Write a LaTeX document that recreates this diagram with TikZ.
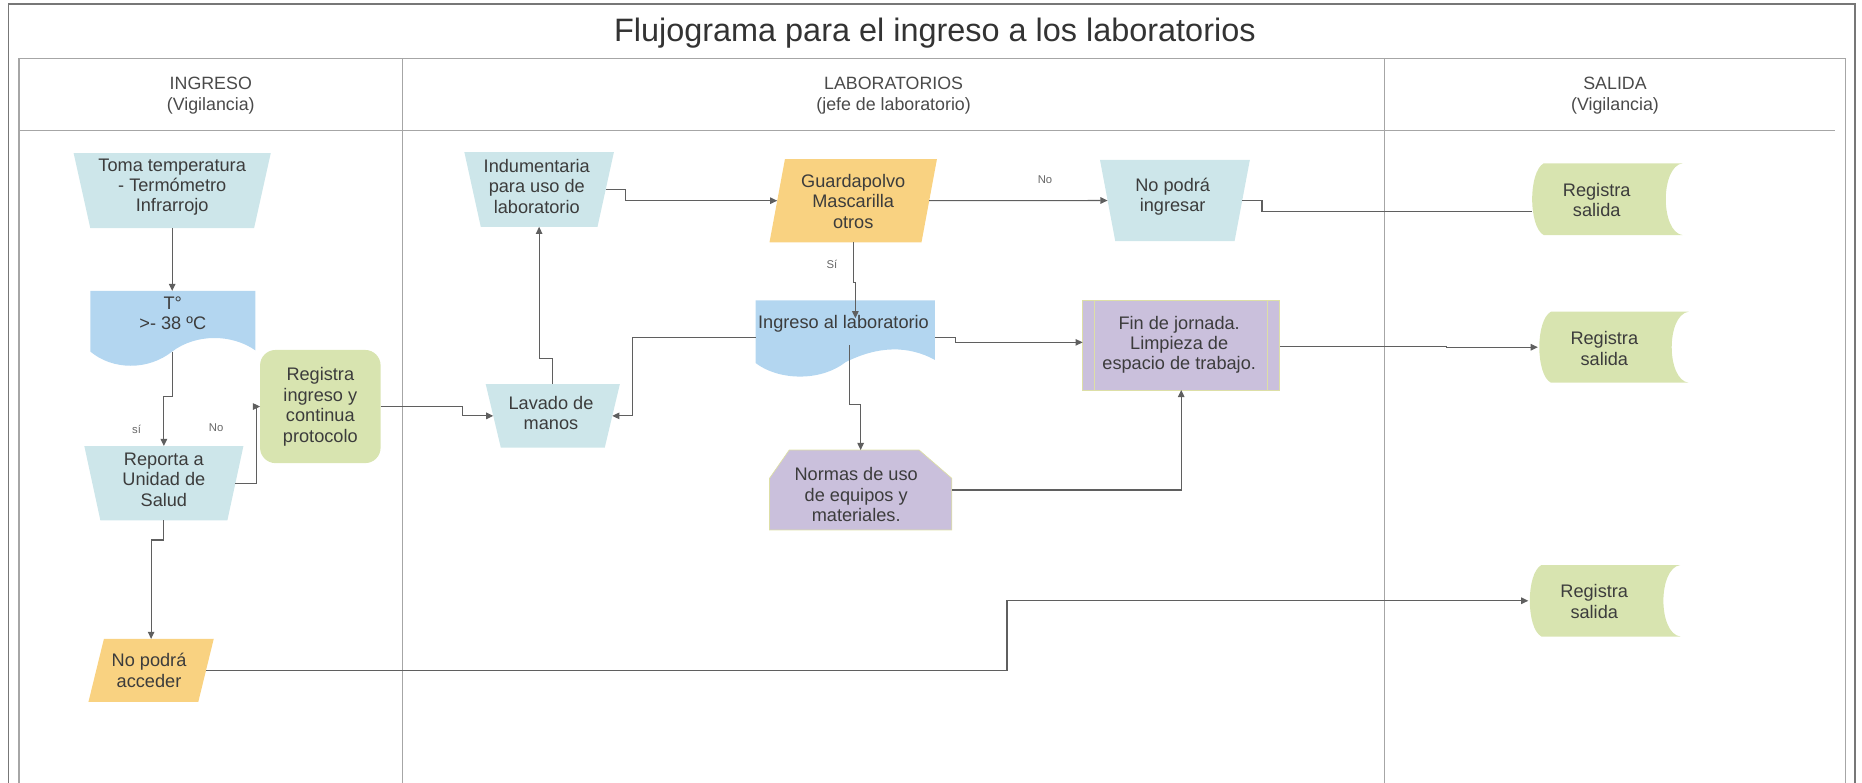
\documentclass[tikz,border=0pt]{standalone}
\usepackage{fontspec}
\setmainfont{Liberation Sans}
\usetikzlibrary{calc,arrows.meta}
\pgfdeclarelayer{bg}
\pgfsetlayers{bg,main}
\definecolor{cteal}{HTML}{CDE6EA}
\definecolor{cblue}{HTML}{B3D6F0}
\definecolor{cgreen}{HTML}{D8E4B0}
\definecolor{corange}{HTML}{F9D281}
\definecolor{cpurple}{HTML}{CAC0DC}
\definecolor{cpborder}{HTML}{DDDFA6}
\definecolor{ctext}{HTML}{3C3C3C}
\definecolor{chdr}{HTML}{4A4A4A}
\definecolor{ctitle}{HTML}{333333}
\definecolor{clbl}{HTML}{666666}
\definecolor{cline}{HTML}{5F5F5F}
\definecolor{clane}{HTML}{A6A6A6}
\definecolor{cframe}{HTML}{777777}
\newcommand\trapfill[3]{\fill[#3] (#1.north west) -- (#1.north east) -- ($(#1.south east)+(-#2,0)$) -- ($(#1.south west)+(#2,0)$) -- cycle;}
\newcommand\parafill[3]{\fill[#3] ($(#1.north west)+(#2,0)$) -- (#1.north east) -- ($(#1.south east)+(-#2,0)$) -- (#1.south west) -- cycle;}
\newcommand\storedfill[1]{\fill[cgreen] ($(#1.north west)+(11,0)$) -- (#1.north east) .. controls ($(#1.north east)+(-19,2.5)$) and ($(#1.south east)+(-19,-2.5)$) .. (#1.south east) -- ($(#1.south west)+(11,0)$) .. controls ($(#1.south west)+(-2,-7)$) and ($(#1.north west)+(-2,7)$) .. cycle;}
\begin{document}
\begin{tikzpicture}[x=1pt,y=-1pt,
 geo/.style 2 args={rectangle,inner sep=0pt,outer sep=0pt,minimum width=#1,minimum height=#2},
 txt/.style={inner sep=0pt,align=center,text=ctext,font=\fontsize{15.3}{17.2}\selectfont},
 hdr/.style={inner sep=0pt,align=center,text=chdr,font=\fontsize{15}{17.7}\selectfont},
 lbl/.style={inner sep=0pt,text=clbl,font=\fontsize{9.5}{11}\selectfont},
 conn/.style={draw=cline,line width=0.9pt},
 arr/.style={conn,-{Triangle[length=6pt,width=5.5pt]}},
 lane/.style={draw=clane,line width=1pt}]
\useasboundingbox (0,0) rectangle (1568,659);
% frame and lanes
\draw[draw=cframe,line width=1.2pt] (7,660) -- (7,3.4) -- (1562,3.4) -- (1562,660);
\draw[lane] (16,660) -- (16,49.4) -- (1554,49.4) -- (1554,660);
\draw[lane] (16,110) -- (1545,110);
\draw[lane] (339,49.4) -- (339,660);
\draw[lane] (1166,49.4) -- (1166,660);
% title and headers
\node[anchor=base,inner sep=0pt,text=ctitle,font=\fontsize{27.3}{30}\selectfont] (title) at (787.25,35) {Flujograma para el ingreso a los laboratorios};
\node[hdr] (h1) at (177.5,80.5) {INGRESO\\(Vigilancia)};
\node[hdr] (h2) at (752.5,80.5) {LABORATORIOS\\(jefe de laboratorio)};
\node[hdr] (h3) at (1360,80.5) {SALIDA\\(Vigilancia)};
% geometry nodes
\node[geo={166}{63}] (toma) at (145,160.5) {};
\node[geo={139}{51}] (temp) at (145.5,270.5) {};
\node[geo={134}{62.5}] (reporta) at (138,406.85) {};
\node[geo={101.5}{95.3}] (regin) at (269.75,342.35) {};
\node[geo={105.5}{53}] (acceder) at (127.25,564.5) {};
\node[geo={126}{63}] (indum) at (454,159.5) {};
\node[geo={141}{70}] (guard) at (718.5,169) {};
\node[geo={150.8}{52}] (inglab) at (711.8,279) {};
\node[geo={113}{53.6}] (lavado) at (465.5,350.2) {};
\node[geo={166}{75.2}] (fin) at (994.7,290.8) {};
\node[geo={153.5}{67.3}] (normas) at (724.75,412.65) {};
\node[geo={126.2}{68.3}] (noing) at (989.4,168.85) {};
\node[geo={128}{60.5}] (reg1) at (1353,167.75) {};
\node[geo={127}{59.8}] (reg2) at (1358.5,292.4) {};
\node[geo={128}{60.2}] (reg3) at (1351,505.9) {};
% fills
\begin{pgfonlayer}{bg}
\trapfill{toma}{14}{cteal}
\trapfill{reporta}{13.5}{cteal}
\trapfill{indum}{13.85}{cteal}
\trapfill{lavado}{12.75}{cteal}
\trapfill{noing}{12.85}{cteal}
\parafill{guard}{13}{corange}
\parafill{acceder}{13}{corange}
\fill[cgreen,rounded corners=13pt] (regin.north west) rectangle (regin.south east);
\fill[cblue] (temp.north west) -- (temp.north east) -- (215,295) .. controls (195,281) and (165,281) .. (145,296) .. controls (125,312) and (95,312) .. (76,296) -- cycle;
\fill[cblue] (inglab.north west) -- (inglab.north east) -- (787.2,303) .. controls (765,291) and (740,291) .. (712,305) .. controls (690,322) and (655,320) .. (636.4,305.8) -- cycle;
\filldraw[fill=cpurple,draw=cpborder,line width=0.8pt] (fin.north west) rectangle (fin.south east);
\draw[cpborder,line width=0.8pt] ($(fin.north west)+(10,0)$) -- ($(fin.south west)+(10,0)$);
\draw[cpborder,line width=0.8pt] ($(fin.north east)+(-10.7,0)$) -- ($(fin.south east)+(-10.7,0)$);
\filldraw[fill=cpurple,draw=cpborder,line width=0.6pt] ($(normas.north west)+(16.6,0)$) -- ($(normas.north east)+(-27.5,0)$) -- ($(normas.north east)+(0,23.8)$) -- (normas.south east) -- (normas.south west) -- ($(normas.north west)+(0,23.8)$) -- cycle;
\storedfill{reg1}
\storedfill{reg2}
\storedfill{reg3}
\end{pgfonlayer}
% texts
\node[txt] (toma-t) at (145,157.6) {Toma temperatura\\- Termómetro\\Infrarrojo};
\node[txt] (temp-t) at (145.5,263.9) {T°\\>- 38 ºC};
\node[txt] (rep-t) at (138,404) {Reporta a\\Unidad de\\Salud};
\node[txt] (regin-t) at (269.75,342.5) {Registra\\ingreso y\\continua\\protocolo};
\node[txt] (acc-t) at (125.5,564.5) {No podrá\\acceder};
\node[txt] (indum-t) at (452,156.7) {Indumentaria\\para uso de\\laboratorio};
\node[txt] (guard-t) at (718.5,169.6) {Guardapolvo\\Mascarilla\\otros};
\node[txt] (inglab-t) at (710.3,272.3) {Ingreso al laboratorio};
\node[txt] (lav-t) at (464,347.9) {Lavado de\\manos};
\node[txt] (fin-t) at (993,290.4) {Fin de jornada.\\Limpieza de\\espacio de trabajo.};
\node[txt] (norm-t) at (721,416.6) {Normas de uso\\de equipos y\\materiales.};
\node[txt] (noing-t) at (987.5,165.6) {No podrá\\ingresar};
\node[txt] (reg1-t) at (1344.6,168.4) {Registra\\salida};
\node[txt] (reg2-t) at (1351,293.4) {Registra\\salida};
\node[txt] (reg3-t) at (1342.5,506.6) {Registra\\salida};
% labels
\node[lbl] (si1) at (115,362) {sí};
\node[lbl] (no1) at (182,360) {No};
\node[lbl] (si2) at (700.6,223) {Sí};
\node[lbl] (no2) at (880,151) {No};
% connectors
\draw[arr] (toma.south) -- (toma.south |- temp.north);
\draw[arr] (temp.south) -- ++(0,38) -| (reporta.north);
\draw[arr] ($(reporta.east)+(-6.75,0)$) -- ++(17.75,0) |- (regin.west);
\draw[arr] (reporta.south) -- ++(0,16.6) -| (acceder.north);
\draw[arr] ($(acceder.east)+(-6.5,0)$) -- ++(674.5,0) |- (reg3.west);
\draw[arr] (regin.east) -- ++(68.9,0) |- ($(lavado.west)+(6.4,0)$);
\draw[arr] (lavado.north) -- ++(0,-21.6) -| (indum.south);
\draw[arr] ($(indum.east)+(-6.9,0)$) -- ++(16.9,0) |- ($(guard.west)+(6.5,0)$);
\draw[arr] ($(guard.east)+(-6.5,0)$) -- ($(noing.west)+(6.4,0)$);
\draw[conn] ($(noing.east)+(-6.4,0)$) -- ++(16.6,0) |- ($(reg1.west)+(1,10)$);
\draw[arr] (guard.south) -- ++(0,33.7) -| ($(inglab.north)+(8.5,15)$);
\draw[arr] ($(inglab.west)+(0,5)$) -- ++(-103.4,0) |- ($(lavado.east)+(-6.4,0)$);
\draw[arr] ($(inglab.east)+(0,5)$) -- ++(17.3,0) |- ($(fin.west)+(0,-2.5)$);
\draw[arr] ($(inglab.center)+(3.2,11.5)$) -- ++(0,50) -| (normas.north);
\draw[arr] (normas.east) -| (fin.south);
\draw[arr] ($(fin.east)+(0,1)$) -- ++(140.3,0) |- (reg2.west);
\end{tikzpicture}
\end{document}
